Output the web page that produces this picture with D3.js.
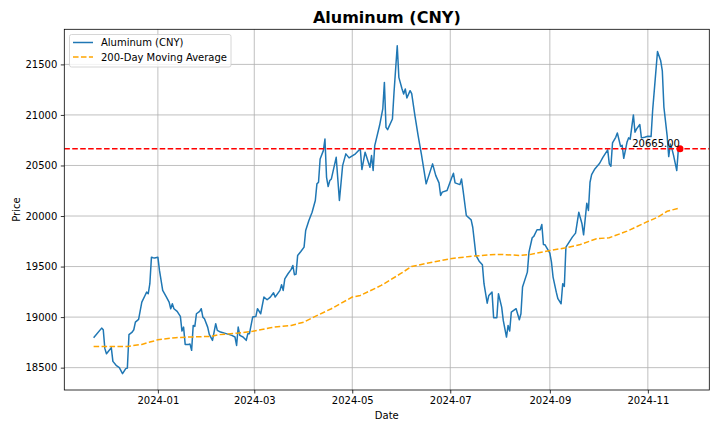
<!DOCTYPE html>
<html>
<head>
<meta charset="utf-8">
<script src="https://cdn.jsdelivr.net/npm/d3@7"></script>
<style>
    body { margin: 0; background: #fff; }
    svg { font-family: "DejaVu Sans", sans-serif; }
</style>
</head>
<body>
<svg id="chart"></svg>
<script>

// Aluminum daily close
const priceDates = [
    "2023-11-22","2023-11-27","2023-11-28","2023-11-29","2023-11-30","2023-12-01","2023-12-03","2023-12-04",
    "2023-12-06","2023-12-08","2023-12-10","2023-12-12","2023-12-13","2023-12-14","2023-12-16","2023-12-17",
    "2023-12-18","2023-12-20","2023-12-22","2023-12-24","2023-12-25","2023-12-26","2023-12-27","2023-12-28",
    "2023-12-29","2023-12-30","2024-01-01","2024-01-02","2024-01-04","2024-01-06","2024-01-08","2024-01-09",
    "2024-01-10","2024-01-11","2024-01-13","2024-01-15","2024-01-16","2024-01-17","2024-01-18","2024-01-20",
    "2024-01-21","2024-01-22","2024-01-23","2024-01-24","2024-01-25","2024-01-27","2024-01-28","2024-01-29",
    "2024-01-30","2024-02-01","2024-02-02","2024-02-04","2024-02-06","2024-02-07","2024-02-09","2024-02-12",
    "2024-02-16","2024-02-18","2024-02-19","2024-02-20","2024-02-21","2024-02-23","2024-02-25","2024-02-26",
    "2024-02-27","2024-02-29","2024-03-02","2024-03-03","2024-03-05","2024-03-07","2024-03-09","2024-03-11",
    "2024-03-13","2024-03-14","2024-03-17","2024-03-18","2024-03-19","2024-03-20","2024-03-22","2024-03-24",
    "2024-03-25","2024-03-26","2024-03-27","2024-03-28","2024-03-30","2024-04-01","2024-04-02","2024-04-04",
    "2024-04-06","2024-04-08","2024-04-09","2024-04-10","2024-04-11","2024-04-13","2024-04-14","2024-04-15",
    "2024-04-16","2024-04-17","2024-04-18","2024-04-21","2024-04-23","2024-04-25","2024-04-27","2024-04-29",
    "2024-05-03","2024-05-06","2024-05-07","2024-05-09","2024-05-10","2024-05-12","2024-05-13","2024-05-14",
    "2024-05-15","2024-05-18","2024-05-20","2024-05-21","2024-05-22","2024-05-23","2024-05-26","2024-05-27",
    "2024-05-29","2024-05-30","2024-06-01","2024-06-02","2024-06-03","2024-06-04","2024-06-06","2024-06-07",
    "2024-06-09","2024-06-11","2024-06-13","2024-06-16","2024-06-20","2024-06-22","2024-06-24","2024-06-25",
    "2024-06-26","2024-06-29","2024-07-02","2024-07-03","2024-07-04","2024-07-07","2024-07-08","2024-07-09",
    "2024-07-11","2024-07-14","2024-07-15","2024-07-17","2024-07-19","2024-07-21","2024-07-22","2024-07-24",
    "2024-07-25","2024-07-27","2024-07-28","2024-07-30","2024-07-31","2024-08-02","2024-08-03","2024-08-05",
    "2024-08-06","2024-08-07","2024-08-08","2024-08-11","2024-08-13","2024-08-14","2024-08-15","2024-08-18",
    "2024-08-19","2024-08-21","2024-08-22","2024-08-24","2024-08-26","2024-08-27","2024-08-28","2024-08-29",
    "2024-09-01","2024-09-02","2024-09-03","2024-09-05","2024-09-06","2024-09-08","2024-09-09","2024-09-10",
    "2024-09-11","2024-09-13","2024-09-15","2024-09-17","2024-09-19","2024-09-21","2024-09-22","2024-09-24",
    "2024-09-25","2024-09-26","2024-09-27","2024-09-29","2024-10-02","2024-10-04","2024-10-07","2024-10-08",
    "2024-10-09","2024-10-10","2024-10-12","2024-10-13","2024-10-15","2024-10-16","2024-10-17","2024-10-19",
    "2024-10-20","2024-10-21","2024-10-23","2024-10-24","2024-10-25","2024-10-27","2024-10-28","2024-10-30",
    "2024-11-01","2024-11-03","2024-11-04","2024-11-05","2024-11-07","2024-11-09","2024-11-10","2024-11-11",
    "2024-11-13","2024-11-14","2024-11-15","2024-11-16","2024-11-17","2024-11-19","2024-11-20","2024-11-21"
];
const priceValues = [
    18796, 18891, 18875, 18688, 18638, 18658, 18698, 18562,
    18523, 18500, 18441, 18490, 18495, 18826, 18852, 18875,
    18951, 18977, 19148, 19214, 19247, 19231, 19330, 19593,
    19587, 19585, 19593, 19462, 19264, 19208, 19148, 19083,
    19132, 19083, 19056, 19007, 18862, 18901, 18730, 18730,
    18733, 18671, 18918, 18908, 19033, 19056, 19083, 19000,
    18984, 18901, 18829, 18770, 18935, 18869, 18852, 18839,
    18819, 18803, 18720, 18901, 18819, 18803, 18770, 18836,
    18836, 19000, 19007, 19083, 19033, 19198, 19172, 19198,
    19241, 19198, 19264, 19320, 19264, 19379, 19429, 19472,
    19511, 19419, 19425, 19610, 19649, 19692, 19857, 19955,
    20037, 20153, 20318, 20334, 20565, 20647, 20762, 20383,
    20291, 20351, 20367, 20581, 20153, 20499, 20615, 20575,
    20615, 20665, 20460, 20631, 20581, 20482, 20598, 20450,
    20697, 20895, 21059, 21322, 20877, 20855, 20960, 21224,
    21685, 21372, 21257, 21207, 21257, 21168, 21240, 21210,
    20993, 20796, 20615, 20318, 20516, 20400, 20328, 20203,
    20236, 20252, 20384, 20423, 20328, 20311, 20367, 20252,
    20005, 19962, 19889, 19610, 19553, 19518, 19330, 19138,
    19214, 19247, 18994, 18994, 19231, 19099, 18967, 18802,
    18918, 18862, 19049, 19083, 18974, 19033, 19297, 19445,
    19642, 19785, 19798, 19864, 19864, 19916, 19718, 19715,
    19632, 19544, 19396, 19247, 19182, 19132, 19330, 19303,
    19692, 19742, 19791, 19831, 20037, 19923, 19814, 20127,
    20055, 20334, 20410, 20466, 20522, 20581, 20654, 20516,
    20492, 20723, 20779, 20822, 20690, 20700, 20571, 20729,
    20773, 20760, 21000, 20829, 20862, 20905, 20773, 20780,
    20789, 20786, 21049, 21240, 21628, 21536, 21437, 21076,
    20796, 20588, 20713, 20664, 20600, 20450, 20664, 20665
];

// 200-day moving average
const maDates = [
    "2023-11-22","2023-12-13","2023-12-22","2023-12-27","2023-12-31","2024-01-01","2024-01-12","2024-01-21",
    "2024-02-03","2024-02-08","2024-02-20","2024-02-29","2024-03-11","2024-03-17","2024-03-24","2024-04-01",
    "2024-04-07","2024-04-18","2024-05-01","2024-05-06","2024-05-19","2024-05-31","2024-06-07","2024-06-23",
    "2024-07-01","2024-07-13","2024-07-26","2024-08-02","2024-08-13","2024-08-19","2024-09-01","2024-09-11",
    "2024-09-20","2024-09-30","2024-10-08","2024-10-19","2024-10-31","2024-11-07","2024-11-13","2024-11-21"
];
const maValues = [
    18710, 18710, 18730, 18753, 18770, 18777, 18796, 18803,
    18809, 18826, 18842, 18859, 18895, 18908, 18918, 18951,
    19000, 19083, 19198, 19214, 19313, 19429, 19501, 19553,
    19577, 19600, 19617, 19620, 19610, 19617, 19659, 19686,
    19718, 19775, 19785, 19850, 19939, 19988, 20047, 20081
];

const currentPrice = 20665;
const yTicks = [18500, 19000, 19500, 20000, 20500, 21000, 21500];
const xTicks = ["2024-01-01", "2024-03-01", "2024-05-01", "2024-07-01", "2024-09-01", "2024-11-01"];
const seriesNames = ["Aluminum (CNY)", "200-Day Moving Average"];


const width = 720, height = 432;
const margin = {left: 64.3, right: 10.7, top: 29.3, bottom: 42};
const parseDate = d3.timeParse("%Y-%m-%d");

const prices = priceDates.map((d, i) => ({date: parseDate(d), value: priceValues[i]}));
const ma = maDates.map((d, i) => ({date: parseDate(d), value: maValues[i]}));

const svg = d3.select("#chart")
    .attr("width", width)
    .attr("height", height);

// matplotlib style 5% padding on both axes
const [x0, x1] = d3.extent(prices, d => d.date);
const xPad = (x1 - x0) * 0.05;
const x = d3.scaleTime()
    .domain([new Date(+x0 - xPad), new Date(+x1 + xPad)])
    .range([margin.left, width - margin.right]);

const [y0, y1] = d3.extent(priceValues.concat(maValues));
const yPad = (y1 - y0) * 0.05;
const y = d3.scaleLinear()
    .domain([y0 - yPad, y1 + yPad])
    .range([height - margin.bottom, margin.top]);

const plotW = width - margin.left - margin.right;
const plotH = height - margin.top - margin.bottom;

// Grid
const xAxis = svg.append("g")
    .attr("transform", `translate(0,${height - margin.bottom})`)
    .call(d3.axisBottom(x)
        .tickValues(xTicks.map(parseDate))
        .tickFormat(d3.timeFormat("%Y-%m"))
        .tickSizeInner(3.5).tickSizeOuter(0).tickPadding(3.5));

const yAxis = svg.append("g")
    .attr("transform", `translate(${margin.left},0)`)
    .call(d3.axisLeft(y)
        .tickValues(yTicks)
        .tickFormat(d3.format("d"))
        .tickSizeInner(3.5).tickSizeOuter(0).tickPadding(3.5));

[xAxis, yAxis].forEach(a => {
    a.select(".domain").remove();
    a.selectAll("text").attr("font-size", 10).attr("fill", "#000").attr("font-family", "DejaVu Sans");
    a.selectAll("line").attr("stroke", "#000").attr("stroke-width", 0.8);
});

svg.append("g")
    .selectAll("line")
    .data(xTicks.map(parseDate))
    .join("line")
    .attr("x1", d => x(d)).attr("x2", d => x(d))
    .attr("y1", margin.top).attr("y2", height - margin.bottom)
    .attr("stroke", "#b0b0b0").attr("stroke-width", 0.8);

svg.append("g")
    .selectAll("line")
    .data(yTicks)
    .join("line")
    .attr("x1", margin.left).attr("x2", width - margin.right)
    .attr("y1", d => y(d)).attr("y2", d => y(d))
    .attr("stroke", "#b0b0b0").attr("stroke-width", 0.8);

// Lines
const line = d3.line().x(d => x(d.date)).y(d => y(d.value));

const plot = svg.append("g");
plot.append("clipPath").attr("id", "clip")
    .append("rect")
    .attr("x", margin.left).attr("y", margin.top)
    .attr("width", plotW).attr("height", plotH);

const inner = plot.append("g").attr("clip-path", "url(#clip)");

inner.append("path")
    .datum(prices)
    .attr("d", line)
    .attr("fill", "none")
    .attr("stroke", "#1f77b4")
    .attr("stroke-width", 1.5)
    .attr("stroke-linejoin", "round");

inner.append("path")
    .datum(ma)
    .attr("d", line)
    .attr("fill", "none")
    .attr("stroke", "orange")
    .attr("stroke-width", 1.5)
    .attr("stroke-dasharray", "5.55,2.4");

// current price line
inner.append("line")
    .attr("x1", margin.left).attr("x2", width - margin.right)
    .attr("y1", y(currentPrice)).attr("y2", y(currentPrice))
    .attr("stroke", "red")
    .attr("stroke-width", 1.5)
    .attr("stroke-dasharray", "5.55,2.4");

const last = prices[prices.length - 1];
inner.append("circle")
    .attr("cx", x(last.date))
    .attr("cy", y(last.value))
    .attr("r", 3.5)
    .attr("fill", "red");

svg.append("text")
    .attr("x", x(last.date))
    .attr("y", y(last.value) - 2)
    .attr("text-anchor", "end")
    .attr("font-size", 10)
    .text(currentPrice.toFixed(2));

// Frame
svg.append("rect")
    .attr("x", margin.left).attr("y", margin.top)
    .attr("width", plotW).attr("height", plotH)
    .attr("fill", "none")
    .attr("stroke", "#000")
    .attr("stroke-width", 0.8);

// Titles
svg.append("text")
    .attr("x", margin.left + plotW / 2)
    .attr("y", 23)
    .attr("text-anchor", "middle")
    .attr("font-size", 16)
    .attr("font-weight", "bold")
    .text("Aluminum (CNY)");

svg.append("text")
    .attr("x", margin.left + plotW / 2)
    .attr("y", 419)
    .attr("text-anchor", "middle")
    .attr("font-size", 10)
    .text("Date");

svg.append("text")
    .attr("transform", `translate(20,${margin.top + plotH / 2}) rotate(-90)`)
    .attr("text-anchor", "middle")
    .attr("font-size", 10)
    .text("Price");

// Legend
const legend = svg.append("g").attr("transform", "translate(69.5,34.5)");
legend.append("rect")
    .attr("width", 161.5).attr("height", 32.5)
    .attr("rx", 2).attr("ry", 2)
    .attr("fill", "#fff").attr("fill-opacity", 0.8)
    .attr("stroke", "#cccccc").attr("stroke-width", 0.8);

const legendStyles = [
    {color: "#1f77b4", dash: null},
    {color: "orange", dash: "5.55,2.4"}
];

seriesNames.forEach((name, i) => {
    const yy = 8 + i * 14.4;
    legend.append("line")
        .attr("x1", 3.5).attr("x2", 23.5)
        .attr("y1", yy).attr("y2", yy)
        .attr("stroke", legendStyles[i].color)
        .attr("stroke-width", 1.5)
        .attr("stroke-dasharray", legendStyles[i].dash);
    legend.append("text")
        .attr("x", 31.5)
        .attr("y", yy + 3.6)
        .attr("font-size", 10)
        .text(name);
});

</script>
</body>
</html>
